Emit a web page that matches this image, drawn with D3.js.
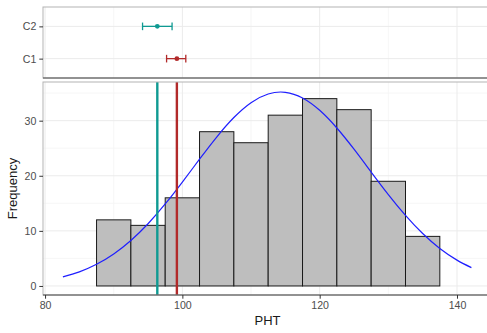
<!DOCTYPE html>
<html>
<head>
<meta charset="utf-8">
<script src="https://cdn.jsdelivr.net/npm/d3@7"></script>
<style>
  body { margin: 0; background: #fff; }
  text { font-family: "Liberation Sans", Arial, sans-serif; }
</style>
</head>
<body>
<svg id="chart" width="487" height="333"></svg>
<script>
// histogram bins (PHT)
const binStarts = [87.5, 92.5, 97.5, 102.5, 107.5, 112.5, 117.5, 122.5, 127.5, 132.5];
const binWidth = 5;
const counts = [12, 11, 16, 28, 26, 31, 34, 32, 19, 9];

// fitted curve
const curveX = [82.6, 85, 87.5, 90, 92.5, 95, 97.5, 100, 102.5, 105, 107.5, 110, 112.5,
  115, 117.5, 120, 122.5, 125, 127.5, 130, 132.5, 135, 137.5, 140, 142.1];
const curveY = [1.64, 2.56, 3.93, 5.81, 8.26, 11.29, 14.88, 18.86, 23.01, 27.03, 30.57, 33.27, 34.85,
  35.15, 34.12, 31.88, 28.67, 24.82, 20.68, 16.59, 12.81, 9.52, 6.81, 4.69, 3.33];

// group means and intervals
const groups = ["C2", "C1"];
const means = [96.35, 99.2];
const lower = [94.2, 97.7];
const upper = [98.5, 100.5];
const groupColors = ["#0f9a92", "#b22a2a"];

const xTicks = [80, 100, 120, 140];
const xMinor = [90, 110, 130];
const yTicks = [0, 10, 20, 30];
const yMinor = [5, 15, 25, 35];

const svg = d3.select("#chart");
const left = 43, right = 492;
const top1 = 7, bottom1 = 78;
const top2 = 82, bottom2 = 295;

const x = d3.scaleLinear().domain([79.7, 145.1]).range([left, right]);
const yTop = d3.scalePoint().domain(groups).range([top1, bottom1]).padding(0.6);
const y = d3.scaleLinear().domain([-1.64, 37.02]).range([bottom2, top2]);

const gridMajor = "#ebebeb", gridMinor = "#f4f4f4";

// ---- top panel ----
const p1 = svg.append("g");
p1.selectAll(".vmin").data(xMinor).enter().append("line")
  .attr("x1", d => x(d)).attr("x2", d => x(d))
  .attr("y1", top1).attr("y2", bottom1)
  .attr("stroke", gridMinor).attr("stroke-width", 0.8);
p1.selectAll(".vmaj").data(xTicks).enter().append("line")
  .attr("x1", d => x(d)).attr("x2", d => x(d))
  .attr("y1", top1).attr("y2", bottom1)
  .attr("stroke", gridMajor).attr("stroke-width", 1);
p1.selectAll(".hmaj").data(groups).enter().append("line")
  .attr("x1", left).attr("x2", right)
  .attr("y1", d => yTop(d)).attr("y2", d => yTop(d))
  .attr("stroke", gridMajor).attr("stroke-width", 1);

groups.forEach((gname, i) => {
  const cy = yTop(gname);
  const g = p1.append("g").attr("stroke", groupColors[i]).attr("stroke-width", 1.3);
  g.append("line").attr("x1", x(lower[i])).attr("x2", x(upper[i])).attr("y1", cy).attr("y2", cy);
  g.append("line").attr("x1", x(lower[i])).attr("x2", x(lower[i])).attr("y1", cy - 3.8).attr("y2", cy + 3.8);
  g.append("line").attr("x1", x(upper[i])).attr("x2", x(upper[i])).attr("y1", cy - 3.8).attr("y2", cy + 3.8);
  p1.append("circle").attr("cx", x(means[i])).attr("cy", cy).attr("r", 2.4)
    .attr("fill", groupColors[i]);
});

p1.append("rect").attr("x", left).attr("y", top1)
  .attr("width", right - left).attr("height", bottom1 - top1)
  .attr("fill", "none").attr("stroke", "#b3b3b3").attr("stroke-width", 1);
p1.append("line").attr("x1", left).attr("x2", right).attr("y1", bottom1).attr("y2", bottom1)
  .attr("stroke", "#4d4d4d").attr("stroke-width", 1.1);

const yAxisTop = p1.append("g").attr("transform", `translate(${left},0)`)
  .call(d3.axisLeft(yTop).tickSize(3.7).tickPadding(3));
yAxisTop.select(".domain").remove();

// ---- bottom panel ----
const p2 = svg.append("g");
p2.selectAll(".hmin").data(yMinor).enter().append("line")
  .attr("x1", left).attr("x2", right)
  .attr("y1", d => y(d)).attr("y2", d => y(d))
  .attr("stroke", gridMinor).attr("stroke-width", 0.8);
p2.selectAll(".vmin").data(xMinor).enter().append("line")
  .attr("x1", d => x(d)).attr("x2", d => x(d))
  .attr("y1", top2).attr("y2", bottom2)
  .attr("stroke", gridMinor).attr("stroke-width", 0.8);
p2.selectAll(".hmaj").data(yTicks).enter().append("line")
  .attr("x1", left).attr("x2", right)
  .attr("y1", d => y(d)).attr("y2", d => y(d))
  .attr("stroke", gridMajor).attr("stroke-width", 1);
p2.selectAll(".vmaj").data(xTicks).enter().append("line")
  .attr("x1", d => x(d)).attr("x2", d => x(d))
  .attr("y1", top2).attr("y2", bottom2)
  .attr("stroke", gridMajor).attr("stroke-width", 1);

p2.selectAll(".bar").data(counts).enter().append("rect")
  .attr("x", (d, i) => x(binStarts[i]))
  .attr("width", (d, i) => x(binStarts[i] + binWidth) - x(binStarts[i]))
  .attr("y", d => y(d))
  .attr("height", d => y(0) - y(d))
  .attr("fill", "#bebebe").attr("stroke", "#1a1a1a").attr("stroke-width", 1);

const line = d3.line().x(d => x(d[0])).y(d => y(d[1])).curve(d3.curveNatural);
p2.append("path").datum(curveX.map((v, i) => [v, curveY[i]]))
  .attr("d", line).attr("fill", "none")
  .attr("stroke", "#1f1fff").attr("stroke-width", 1.2);

// mean lines: C2 first then C1
[0, 1].forEach(i => {
  p2.append("line").attr("x1", x(means[i])).attr("x2", x(means[i]))
    .attr("y1", top2).attr("y2", bottom2)
    .attr("stroke", groupColors[i]).attr("stroke-width", 2.4);
});

p2.append("rect").attr("x", left).attr("y", top2)
  .attr("width", right - left).attr("height", bottom2 - top2)
  .attr("fill", "none").attr("stroke", "#b3b3b3").attr("stroke-width", 1);
p2.append("line").attr("x1", left).attr("x2", right).attr("y1", bottom2).attr("y2", bottom2)
  .attr("stroke", "#4d4d4d").attr("stroke-width", 1.1);

const yAxis = p2.append("g").attr("transform", `translate(${left},0)`)
  .call(d3.axisLeft(y).tickValues(yTicks).tickSize(3.7).tickPadding(3));
yAxis.select(".domain").remove();

const xAxis = p2.append("g").attr("transform", `translate(0,${bottom2})`)
  .call(d3.axisBottom(x).tickValues(xTicks).tickSize(3.7).tickPadding(2.5));
xAxis.select(".domain").remove();

svg.selectAll(".tick text").attr("font-size", 10.6).attr("fill", "#4d4d4d")
  .style("font-family", '"Liberation Sans", Arial, sans-serif');
svg.selectAll(".tick line").attr("stroke", "#333");

svg.append("text").attr("x", (left + right) / 2).attr("y", 325)
  .attr("text-anchor", "middle").attr("font-size", 13).attr("fill", "#1a1a1a").text("PHT");
svg.append("text").attr("transform", `translate(17,${(top2 + bottom2) / 2}) rotate(-90)`)
  .attr("text-anchor", "middle").attr("font-size", 13).attr("fill", "#1a1a1a").text("Frequency");
</script>
</body>
</html>
